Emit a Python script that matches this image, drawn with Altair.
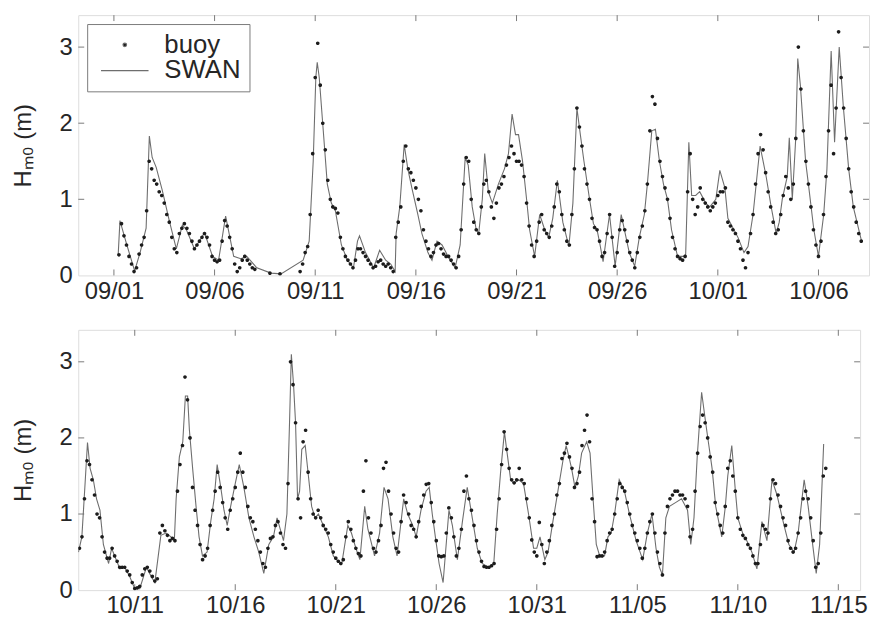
import altair as alt
import pandas as pd

FONT = "Liberation Sans"
INK = "#262626"
FRAME = "#7a7a7a"
DOT = "#1c1c1c"
LINE = "#6e6e6e"
FMT = "%Y-%m-%dT%H:%M:%S"

# ---------------- data ----------------
series_names = ["buoy", "SWAN"]
y_ticks = [0, 1, 2, 3]

# Panel 1: buoy Hm0 (m), 3-hourly samples starting 2003-09-01 00:00 (None = no data)
buoy1_start = "2003-09-01T00:00:00"
buoy1 = [
    None, None, 0.27, 0.68, 0.52, 0.40, 0.25, 0.15,
    0.05, 0.10, 0.28, 0.40, 0.50, 0.85, 1.50, 1.40,
    1.25, 1.20, 1.10, 1.05, 0.95, 0.80, 0.70, 0.50,
    0.35, 0.30, 0.55, 0.62, 0.68, 0.62, 0.55, 0.45,
    0.35, 0.40, 0.45, 0.50, 0.55, 0.50, 0.40, 0.25,
    0.20, 0.18, 0.20, 0.45, 0.72, 0.65, 0.50, 0.35,
    0.15, 0.05, 0.10, 0.20, 0.25, 0.20, 0.15, 0.10,
    0.08, None, None, None, None, None, 0.03, None,
    None, None, 0.02, None, None, None, None, None,
    None, None, 0.05, 0.15, 0.30, 0.38, 0.80, 1.60,
    2.60, 3.05, 2.50, 2.00, 1.65, 1.25, 1.00, 0.90,
    0.88, 0.82, 0.50, 0.35, 0.25, 0.20, 0.15, 0.10,
    0.20, 0.35, 0.35, 0.30, 0.25, 0.20, 0.15, 0.10,
    0.12, 0.18, 0.20, 0.15, 0.12, 0.15, 0.10, 0.05,
    0.50, 0.70, 0.90, 1.50, 1.70, 1.40, 1.35, 1.25,
    1.15, 1.00, 0.85, 0.60, 0.45, 0.35, 0.25, 0.30,
    0.40, 0.42, 0.35, 0.28, 0.25, 0.25, 0.20, 0.15,
    0.10, 0.25, 0.60, 1.20, 1.55, 1.50, 1.00, 0.70,
    0.60, 0.55, 0.90, 1.20, 1.25, 1.10, 0.90, 0.75,
    0.95, 1.15, 1.20, 1.30, 1.45, 1.55, 1.70, 1.60,
    1.50, 1.50, 1.45, 1.30, 0.95, 0.65, 0.40, 0.25,
    0.45, 0.70, 0.80, 0.60, 0.55, 0.50, 0.65, 0.90,
    1.20, 1.10, 0.80, 0.60, 0.45, 0.40, 0.80, 1.40,
    2.20, 1.95, 1.70, 1.40, 1.20, 1.00, 0.75, 0.63,
    0.60, 0.45, 0.25, 0.30, 0.55, 0.80, 0.50, 0.12,
    0.30, 0.60, 0.72, 0.60, 0.45, 0.30, 0.20, 0.10,
    0.30, 0.50, 0.65, 0.85, 1.20, 1.90, 2.35, 2.25,
    1.80, 1.50, 1.30, 1.15, 1.00, 0.75, 0.50, 0.35,
    0.25, 0.22, 0.20, 0.25, 1.10, 1.60, 1.00, 0.80,
    0.90, 1.15, 1.00, 0.95, 0.90, 0.85, 0.90, 0.95,
    1.05, 1.10, 1.10, 1.15, 0.70, 0.65, 0.60, 0.55,
    0.45, 0.35, 0.20, 0.10, 0.30, 0.55, 0.80, 1.20,
    1.60, 1.85, 1.65, 1.35, 1.10, 0.90, 0.70, 0.55,
    0.60, 0.80, 1.05, 1.30, 1.15, 1.00, 1.20, 1.80,
    3.00, 2.45, 1.90, 1.50, 1.20, 0.90, 0.60, 0.40,
    0.25, 0.45, 0.80, 1.30, 1.90, 2.50, 1.60, 2.20,
    3.20, 2.60, 2.20, 1.80, 1.40, 1.10, 0.90, 0.70,
    0.55, 0.45,
]

# Panel 1: SWAN Hm0 (m), days after 2003-09-01 00:00
swan1_start = "2003-09-01T00:00:00"
swan1_day = [
    0.21, 0.30, 0.62, 1.03, 1.30, 1.60, 1.76, 1.90, 2.10, 2.40, 2.75, 3.10, 3.40, 3.60,
    4.00, 4.50, 4.90, 5.20, 5.55, 5.95, 6.30, 6.60, 7.10, 7.80, 8.30, 9.40, 9.70, 9.90,
    10.03, 10.10, 10.20, 10.40, 10.60, 10.80, 11.00, 11.30, 11.60, 11.90, 12.10, 12.20,
    12.50, 12.90, 13.20, 13.50, 13.75, 13.97, 14.02, 14.20, 14.42, 14.60, 14.80, 15.10,
    15.30, 15.60, 15.80, 16.05, 16.30, 16.60, 16.95, 17.20, 17.45, 17.60, 17.80, 18.00,
    18.12, 18.30, 18.42, 18.60, 18.80, 19.10, 19.40, 19.60, 19.78, 19.95, 20.10, 20.30,
    20.50, 20.65, 20.90, 21.15, 21.40, 21.60, 21.80, 22.03, 22.30, 22.60, 22.80, 23.00,
    23.17, 23.35, 23.60, 23.82, 24.00, 24.15, 24.30, 24.62, 24.90, 25.20, 25.60, 25.87,
    26.10, 26.35, 26.50, 26.72, 26.90, 27.10, 27.30, 27.50, 27.70, 28.00, 28.40, 28.56,
    28.70, 28.90, 29.10, 29.40, 29.60, 29.90, 30.10, 30.35, 30.50, 30.80, 31.00, 31.30,
    31.50, 31.75, 32.10, 32.40, 32.65, 32.90, 33.05, 33.20, 33.45, 33.55, 33.70, 33.87,
    33.97, 34.10, 34.36, 34.50, 34.77, 35.00, 35.26, 35.42, 35.63, 35.80, 36.03, 36.24,
    36.50, 36.73, 37.14,
]
swan1_val = [
    0.26, 0.72, 0.42, 0.06, 0.30, 0.62, 1.83, 1.55, 1.42, 1.12, 0.72, 0.35, 0.66, 0.60,
    0.35, 0.56, 0.25, 0.20, 0.78, 0.25, 0.22, 0.25, 0.10, 0.03, 0.02, 0.20, 0.45, 1.50,
    2.60, 2.80, 2.60, 1.90, 1.20, 0.95, 0.85, 0.40, 0.20, 0.10, 0.45, 0.52,
    0.30, 0.10, 0.33, 0.20, 0.15, 0.05, 0.55, 0.90, 1.72, 1.40, 1.15, 0.80,
    0.55, 0.30, 0.20, 0.45, 0.40, 0.25, 0.10, 0.40, 1.55, 1.45, 0.90, 0.60,
    0.55, 1.00, 1.60, 1.10, 0.95, 1.20, 1.40, 1.60, 2.12, 1.85, 1.85, 1.50,
    1.00, 0.60, 0.25, 0.80, 0.60, 0.50, 0.75, 1.25, 0.70, 0.38, 0.95, 2.20,
    1.85, 1.50, 1.05, 0.68, 0.60, 0.40, 0.18, 0.80, 0.12, 0.80, 0.30, 0.12,
    0.50, 0.80, 1.20, 1.90, 1.92, 1.50, 1.20, 1.00, 0.60, 0.25, 0.25, 1.75,
    1.05, 1.05, 1.10, 0.95, 0.90, 1.00, 1.38, 1.15, 0.75, 0.60, 0.50, 0.30,
    0.38, 0.80, 1.70, 1.30, 0.90, 0.55, 0.70, 1.00, 1.30, 1.81, 1.00, 1.80,
    2.85, 2.50, 1.50, 1.20, 0.60, 0.25, 0.80, 1.40, 2.95, 1.75, 3.00, 2.20,
    1.40, 0.90, 0.45,
]

# Panel 2: buoy Hm0 (m), 3-hourly samples starting 2003-10-08 00:00
buoy2_start = "2003-10-08T00:00:00"
buoy2 = [
    None, None, 0.55, 0.70, 1.20, 1.70, 1.65, 1.45,
    1.25, 1.00, 0.95, 0.70, 0.50, 0.42, 0.42, 0.55,
    0.45, 0.38, 0.30, 0.30, 0.30, 0.25, 0.20, 0.10,
    0.02, 0.03, 0.05, 0.20, 0.28, 0.30, 0.25, 0.18,
    0.12, 0.15, 0.75, 0.85, 0.78, 0.72, 0.65, 0.68,
    0.65, 1.30, 1.65, 1.90, 2.80, 2.50, 2.00, 1.35,
    1.05, 0.85, 0.60, 0.40, 0.45, 0.55, 0.85, 1.05,
    1.30, 1.55, 1.35, 1.15, 0.95, 0.80, 1.05, 1.20,
    1.35, 1.55, 1.80, 1.55, 1.35, 1.10, 0.95, 0.90,
    0.80, 0.65, 0.50, 0.35, 0.30, 0.55, 0.68, 0.70,
    0.85, 0.90, 0.75, 0.60, 0.55, 1.40, 3.00, 2.70,
    2.20, 1.20, 0.95, 1.95, 2.10, 1.55, 1.20, 1.00,
    0.95, 1.05, 0.95, 0.85, 0.80, 0.75, 0.60, 0.50,
    0.42, 0.38, 0.35, 0.40, 0.70, 0.90, 0.80, 0.65,
    0.55, 0.48, 0.45, 1.30, 1.70, 0.95, 0.75, 0.55,
    0.50, 0.65, 0.85, 1.60, 1.68, 1.30, 1.00, 0.75,
    0.55, 0.50, 0.90, 1.25, 1.15, 1.00, 0.85, 0.80,
    0.70, 0.90, 1.10, 1.25, 1.39, 1.40, 1.15, 0.90,
    0.65, 0.45, 0.44, 0.45, 0.75, 1.08, 0.95, 0.70,
    0.45, 0.55, 0.80, 1.30, 1.50, 1.20, 1.05, 0.85,
    0.65, 0.50, 0.38, 0.31, 0.30, 0.30, 0.32, 0.35,
    0.80, 1.20, 1.65, 2.08, 1.85, 1.60, 1.45, 1.41,
    1.45, 1.60, 1.45, 1.40, 1.20, 0.95, 0.66, 0.50,
    0.45, 0.89, 0.60, 0.35, 0.50, 0.65, 0.85, 1.00,
    1.25, 1.40, 1.73, 1.80, 1.93, 1.75, 1.60, 1.35,
    1.40, 1.55, 1.90, 2.10, 2.30, 1.95, 1.20, 0.90,
    0.44, 0.45, 0.45, 0.50, 0.65, 0.75, 0.80, 1.00,
    1.20, 1.40, 1.35, 1.30, 1.15, 1.00, 0.85, 0.75,
    0.65, 0.55, 0.42, 0.55, 0.75, 0.90, 1.00, 0.75,
    0.50, 0.35, 0.20, 0.75, 1.10, 1.20, 1.25, 1.30,
    1.30, 1.25, 1.25, 1.20, 1.10, 0.70, 0.80, 1.30,
    1.80, 2.15, 2.30, 2.20, 2.00, 1.75, 1.55, 1.15,
    1.00, 0.85, 0.75, 1.10, 1.60, 1.70, 1.50, 1.30,
    0.95, 0.80, 0.72, 0.68, 0.60, 0.55, 0.45, 0.35,
    0.35, 0.60, 0.85, 0.80, 0.75, 1.20, 1.45, 1.40,
    1.25, 1.10, 0.95, 0.85, 0.65, 0.55, 0.50, 0.55,
    0.75, 0.95, 1.20, 1.30, 1.20, 0.95, 0.65, 0.30,
    0.35, 0.75, 1.50, 1.60,
]

# Panel 2: SWAN Hm0 (m), days after 2003-10-08 00:00
swan2_start = "2003-10-08T00:00:00"
swan2_day = [
    0.20, 0.37, 0.53, 0.65, 0.78, 0.94, 1.10, 1.27, 1.44, 1.70, 1.85, 2.00, 2.26, 2.50,
    2.75, 3.00, 3.25, 3.58, 3.82, 4.00, 4.30, 4.56, 4.80, 4.97, 5.06, 5.22, 5.39, 5.52,
    5.63, 5.72, 5.88, 6.05, 6.20, 6.37, 6.60, 6.78, 6.95, 7.10, 7.28, 7.44, 7.60, 7.77,
    8.00, 8.20, 8.43, 8.68, 8.93, 9.17, 9.42, 9.67, 9.90, 10.08, 10.40, 10.57, 10.70,
    10.79, 10.90, 11.00, 11.10, 11.20, 11.31, 11.48, 11.64, 11.80, 11.97, 12.14, 12.38,
    12.63, 12.88, 13.04, 13.30, 13.60, 13.78, 14.00, 14.20, 14.44, 14.60, 14.93, 15.18,
    15.40, 15.60, 15.84, 16.05, 16.38, 16.58, 16.83, 17.00, 17.24, 17.49, 17.65, 17.80,
    17.98, 18.14, 18.34, 18.63, 18.80, 19.05, 19.30, 19.54, 19.79, 20.04, 20.28, 20.60,
    20.86, 21.03, 21.20, 21.39, 21.50, 21.70, 21.85, 22.10, 22.34, 22.59, 22.84, 23.00,
    23.16, 23.40, 23.56, 23.80, 24.05, 24.30, 24.46, 24.60, 24.73, 24.90, 25.07, 25.23,
    25.48, 25.65, 25.80, 25.96, 26.13, 26.37, 26.54, 26.70, 26.87, 27.10, 27.36, 27.61,
    27.94, 28.27, 28.50, 28.73, 28.93, 29.10, 29.25, 29.42, 29.60, 29.90, 30.20, 30.50,
    30.66, 30.82, 30.98, 31.20, 31.40, 31.56, 31.72, 31.90, 32.05, 32.20, 32.38, 32.50,
    32.70, 32.88, 33.00, 33.30, 33.45, 33.70, 33.95, 34.20, 34.45, 34.70, 34.95, 35.30,
    35.54, 35.80, 36.00, 36.30, 36.50, 36.70, 36.90, 37.07, 37.27,
]
swan2_val = [
    0.50, 0.70, 1.40, 1.94, 1.60, 1.45, 1.20, 1.05, 0.60, 0.35, 0.55, 0.45, 0.28, 0.30,
    0.18, 0.02, 0.02, 0.30, 0.18, 0.10, 0.72, 0.75, 0.70, 0.65, 1.20, 1.75, 1.95, 2.55,
    2.55, 2.10, 1.60, 1.10, 0.70, 0.45, 0.50, 0.90, 1.20, 1.65, 1.35, 1.05, 0.85, 1.10,
    1.40, 1.65, 1.35, 0.95, 0.70, 0.50, 0.22, 0.60, 0.70, 0.95, 0.65, 1.00, 2.20,
    3.10, 2.70, 2.20, 1.20, 1.30, 1.85, 1.90, 1.50, 1.10, 0.95, 1.00, 0.85,
    0.70, 0.45, 0.40, 0.35, 0.85, 0.75, 0.55, 0.40, 1.10, 0.80, 0.45, 0.75,
    1.35, 1.20, 0.70, 0.45, 1.20, 1.00, 0.85, 0.70, 1.05, 1.30, 1.35, 1.00,
    0.65, 0.35, 0.10, 1.05, 0.85, 0.40, 0.90, 1.35, 0.95, 0.55, 0.35, 0.30,
    0.35, 1.00, 1.55, 2.08, 1.85, 1.45, 1.40, 1.45, 1.40, 1.00, 0.55, 0.55,
    0.70, 0.40, 0.50, 0.90, 1.30, 1.70, 1.90, 1.75, 1.60, 1.35, 1.50, 1.80,
    1.95, 1.80, 1.20, 0.60, 0.45, 0.45, 0.70, 0.75, 1.00, 1.45, 1.30, 1.00,
    0.65, 0.40, 0.75, 1.00, 0.55, 0.30, 0.20, 0.95, 1.10, 1.15, 1.20, 1.05,
    0.60, 0.95, 1.75, 2.60, 2.20, 1.90, 1.60, 1.10, 0.90, 0.70, 1.10, 1.50,
    1.90, 1.30, 0.95, 0.70, 0.65, 0.50, 0.28, 0.90, 0.65, 1.45, 1.25, 0.85,
    0.60, 0.50, 0.75, 1.45, 1.10, 0.65, 0.22, 0.60, 1.92,
]

# axis ranges and tick dates
dom1 = ["2003-08-30T05:30:00", "2003-10-08T12:15:00"]
dom2 = ["2003-10-08T04:35:00", "2003-11-16T02:00:00"]
ticks1 = ["2003-09-01", "2003-09-06", "2003-09-11", "2003-09-16",
          "2003-09-21", "2003-09-26", "2003-10-01", "2003-10-06"]
ticks2 = ["2003-10-11", "2003-10-16", "2003-10-21", "2003-10-26",
          "2003-10-31", "2003-11-05", "2003-11-10", "2003-11-15"]

H = 263
W1 = 799
W2 = 790
YMAX = 3.42


def to_dt(s):
    t = pd.Timestamp(s)
    return alt.DateTime(year=t.year, month=t.month, date=t.day,
                        hours=t.hour, minutes=t.minute)


def panel(b_start, b_vals, s_start, s_day, s_val, dom, ticks, width, with_legend):
    t0 = pd.Timestamp(b_start)
    rows = [((t0 + pd.Timedelta(hours=3 * i)).strftime(FMT), v)
            for i, v in enumerate(b_vals) if v is not None]
    bdf = pd.DataFrame(rows, columns=["t", "h"])
    bdf["series"] = "buoy"
    s0 = pd.Timestamp(s_start)
    sdf = pd.DataFrame({
        "t": [(s0 + pd.to_timedelta(d, unit="D")).strftime(FMT) for d in s_day],
        "h": s_val,
    })
    tdf = pd.DataFrame({"t": [pd.Timestamp(x).strftime(FMT) for x in ticks]})
    ydf = pd.DataFrame({"v": y_ticks[1:]})

    xscale = alt.Scale(domain=[to_dt(d) for d in dom])
    yscale = alt.Scale(domain=[0, YMAX], nice=False)
    xaxis = alt.Axis(values=[to_dt(d) for d in ticks], format="%m/%d", tickSize=0,
                     labelPadding=4, domain=False, grid=False, title=None,
                     labelFontSize=24, labelFont=FONT, labelColor=INK, labelFlush=False)
    yaxis = alt.Axis(values=y_ticks, format="d", tickSize=0, labelPadding=6, domain=False,
                     grid=False, title="Hₘ₀ (m)", titleFontSize=24, titleFont=FONT,
                     titleFontWeight="normal", titleColor=INK, titlePadding=24,
                     labelFontSize=24, labelFont=FONT, labelColor=INK)

    x = alt.X("t:T", scale=xscale, axis=xaxis)
    y = alt.Y("h:Q", scale=yscale, axis=yaxis)

    line = alt.Chart(sdf).mark_line(color=LINE, strokeWidth=1.1, clip=True).encode(x=x, y=y)

    if with_legend:
        leg = alt.Legend(title=None, orient="none", legendX=9, legendY=9,
                         fillColor="white", strokeColor=FRAME, padding=8,
                         labelFontSize=26, labelFont=FONT, labelColor=INK,
                         labelOffset=27, symbolOffset=17, rowPadding=0,
                         symbolSize=144, symbolStrokeColor=LINE,
                         symbolStrokeWidth=1.2)
    else:
        leg = None
    dot_path = "M-0.3,0A0.3,0.3 0 1,0 0.3,0A0.3,0.3 0 1,0 -0.3,0Z"
    pts = alt.Chart(bdf).mark_point(filled=True, size=150, opacity=1, clip=True).encode(
        x=x, y=y,
        color=alt.Color("series:N", scale=alt.Scale(domain=series_names, range=[DOT, LINE]),
                        legend=leg),
        shape=alt.Shape("series:N", scale=alt.Scale(domain=series_names,
                                                     range=[dot_path, "M-4,0L4,0"]),
                        legend=leg),
    )

    xt = alt.X("t:T", scale=xscale)
    tick_bot = alt.Chart(tdf).mark_rule(color=FRAME, strokeWidth=1).encode(
        x=xt, y=alt.value(H), y2=alt.value(H - 6))
    tick_top = alt.Chart(tdf).mark_rule(color=FRAME, strokeWidth=1).encode(
        x=xt, y=alt.value(0), y2=alt.value(6))
    yt = alt.Y("v:Q", scale=yscale)
    tick_l = alt.Chart(ydf).mark_rule(color=FRAME, strokeWidth=1).encode(
        y=yt, x=alt.value(0), x2=alt.value(6))
    tick_r = alt.Chart(ydf).mark_rule(color=FRAME, strokeWidth=1).encode(
        y=yt, x=alt.value(width), x2=alt.value(width - 6))

    return alt.layer(tick_bot, tick_top, tick_l, tick_r, line, pts).properties(
        width=width, height=H)


p1 = panel(buoy1_start, buoy1, swan1_start, swan1_day, swan1_val, dom1, ticks1, W1, True)
p2 = panel(buoy2_start, buoy2, swan2_start, swan2_day, swan2_val, dom2, ticks2, W2, False)

chart = alt.vconcat(p1, p2, spacing=25).resolve_scale(
    x="independent", y="independent", color="independent", shape="independent"
).resolve_legend(color="independent", shape="independent").properties(
    padding={"left": 3, "top": 3, "right": 0, "bottom": 0}
).configure_view(stroke=FRAME, strokeWidth=1.2).configure(background="white")

chart.save("out.html", embed_options={"renderer": "svg", "actions": False})
